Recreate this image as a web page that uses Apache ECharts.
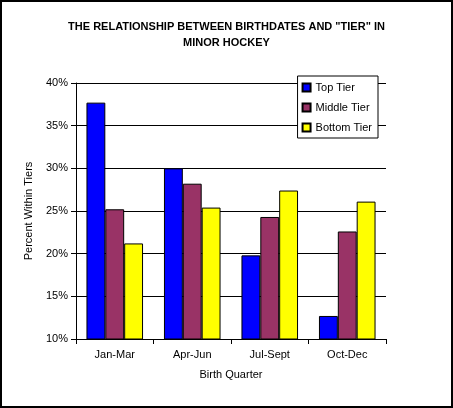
<!DOCTYPE html>
<html><head><meta charset="utf-8">
<script src="https://cdn.jsdelivr.net/npm/echarts@6/dist/echarts.min.js"></script>
<style>html,body{margin:0;padding:0;background:#fff}#c{width:453px;height:408px}</style>
</head><body><div id="c"></div>
<script>
const categories = ['Jan-Mar','Apr-Jun','Jul-Sept','Oct-Dec'];
const topTier = [37.7, 30.0, 19.8, 12.7];
const middleTier = [25.2, 28.2, 24.3, 22.6];
const bottomTier = [21.2, 25.4, 27.4, 26.1];
const yTicks = [10, 15, 20, 25, 30, 35, 40];
const font = 'Arial, "Liberation Sans", sans-serif';
const chart = echarts.init(document.getElementById('c'));
function s(name, data, color){
  return {name, type:'bar', data, barGap:'0%', barCategoryGap:'27%',
    itemStyle:{color, borderColor:'#000', borderWidth:1}};
}
chart.setOption({
  animation:false,
  backgroundColor:'#fff',
  graphic:[{type:'rect', shape:{x:1,y:1,width:451,height:406}, style:{fill:'none',stroke:'#000',lineWidth:2}}],
  title:{text:'THE RELATIONSHIP BETWEEN BIRTHDATES AND "TIER" IN\nMINOR HOCKEY', left:'center', top:14,
    textStyle:{fontFamily:font, fontSize:11, fontWeight:'bold', color:'#000', lineHeight:16}},
  legend:{orient:'vertical', right:75, top:76, itemWidth:8, itemHeight:8, itemGap:9, padding:[6,6,5,4],
    borderColor:'#000', borderWidth:1, backgroundColor:'#fff', icon:'rect',
    textStyle:{fontFamily:font, fontSize:11, color:'#000'},
    data:['Top Tier','Middle Tier','Bottom Tier']},
  grid:{left:76, right:67, top:83, bottom:69},
  xAxis:{type:'category', data:categories, name:'Birth Quarter', nameLocation:'middle', nameGap:30,
    nameTextStyle:{fontFamily:font, fontSize:11, color:'#000'},
    axisLine:{lineStyle:{color:'#000'}}, axisTick:{show:true, lineStyle:{color:'#000'}},
    axisLabel:{fontFamily:font, fontSize:11, color:'#000', margin:10}},
  yAxis:{type:'value', min:yTicks[0], max:yTicks[yTicks.length-1], interval:5,
    name:'Percent Within Tiers', nameLocation:'middle', nameGap:42,
    nameTextStyle:{fontFamily:font, fontSize:11, color:'#000'},
    axisLine:{show:true, lineStyle:{color:'#000'}}, axisTick:{show:true, lineStyle:{color:'#000'}},
    axisLabel:{fontFamily:font, fontSize:11, color:'#000', formatter:'{value}%'},
    splitLine:{lineStyle:{color:'#000'}}},
  series:[s('Top Tier', topTier, '#0000ff'), s('Middle Tier', middleTier, '#993366'), s('Bottom Tier', bottomTier, '#ffff00')]
});
</script></body></html>
